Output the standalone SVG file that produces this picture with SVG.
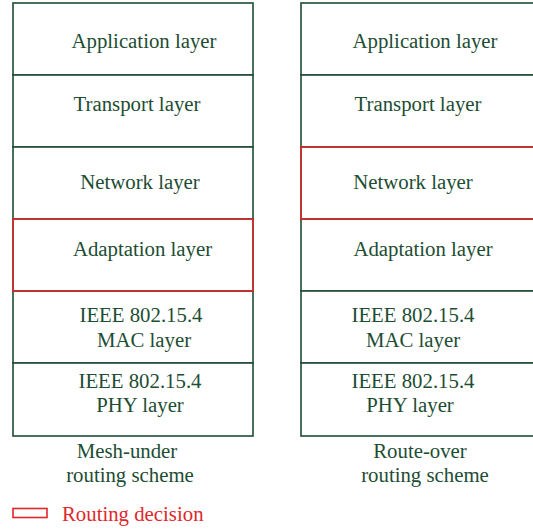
<svg xmlns="http://www.w3.org/2000/svg" width="533" height="531" viewBox="0 0 533 531">
<style>
.box{fill:#fff;stroke:#1d4d33;stroke-width:1.6}
.red{fill:none;stroke:#e0272b;stroke-width:1.6}
text{font-family:"Liberation Serif","Times New Roman",serif;font-size:20.8px;fill:#1d4d33;text-anchor:middle}
.rt{fill:#e0272b;text-anchor:start}
</style>
<rect width="533" height="531" fill="#fff"/>
<g id="mesh-under">
<g id="m-app"><rect class="box" x="13" y="3" width="240" height="72"/><text x="144" y="48">Application layer</text></g>
<g id="m-transport"><rect class="box" x="13" y="75" width="240" height="72"/><text x="137" y="111">Transport layer</text></g>
<g id="m-network"><rect class="box" x="13" y="147" width="240" height="72"/><text x="140" y="189">Network layer</text></g>
<g id="m-mac"><rect class="box" x="13" y="291" width="240" height="72"/><text x="141" y="322">IEEE 802.15.4</text><text x="144" y="347">MAC layer</text></g>
<g id="m-phy"><rect class="box" x="13" y="363" width="240" height="73"/><text x="140" y="388">IEEE 802.15.4</text><text x="140" y="412">PHY layer</text></g>
<g id="m-adapt"><rect class="box" x="13" y="219" width="240" height="72"/><rect class="red" x="13" y="219" width="240" height="72"/><text x="142.5" y="256">Adaptation layer</text></g>
<g id="m-caption"><text x="127" y="458">Mesh-under</text><text x="130" y="482">routing scheme</text></g>
</g>
<g id="route-over">
<g id="r-app"><rect class="box" x="301" y="3" width="240" height="72"/><text x="425" y="48">Application layer</text></g>
<g id="r-transport"><rect class="box" x="301" y="75" width="240" height="72"/><text x="418" y="111">Transport layer</text></g>
<g id="r-adapt"><rect class="box" x="301" y="219" width="240" height="72"/><text x="423" y="256">Adaptation layer</text></g>
<g id="r-mac"><rect class="box" x="301" y="291" width="240" height="72"/><text x="413" y="322">IEEE 802.15.4</text><text x="413" y="347">MAC layer</text></g>
<g id="r-phy"><rect class="box" x="301" y="363" width="240" height="73"/><text x="413" y="388">IEEE 802.15.4</text><text x="410" y="412">PHY layer</text></g>
<g id="r-network"><rect class="box" x="301" y="147" width="240" height="72"/><rect class="red" x="301" y="147" width="240" height="72"/><text x="413" y="189">Network layer</text></g>
<g id="r-caption"><text x="420" y="458">Route-over</text><text x="425" y="482">routing scheme</text></g>
</g>
<g id="legend">
<rect class="red" x="13" y="508.5" width="34" height="9"/>
<text class="rt" x="62" y="521">Routing decision</text>
</g>
<g id="connectors"/>
</svg>
